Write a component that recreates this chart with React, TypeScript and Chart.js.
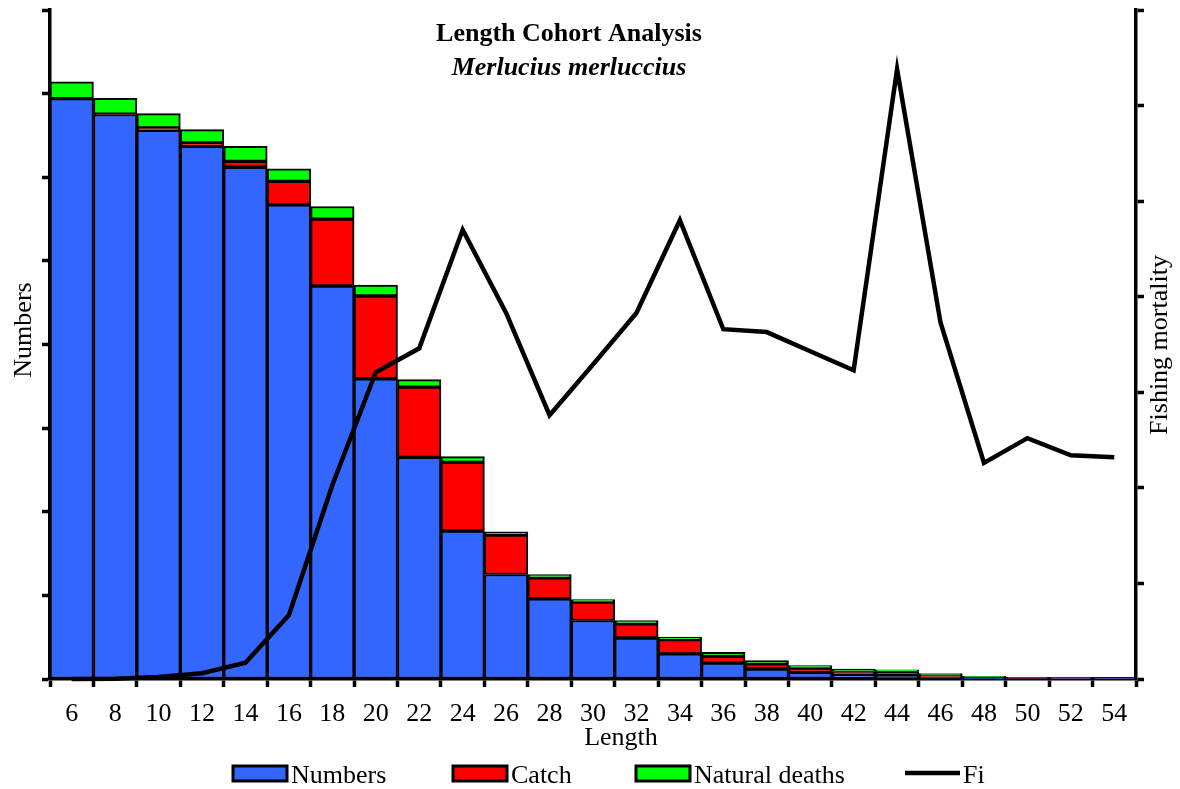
import React, { useEffect, useRef } from "react";
import { Chart, registerables } from "chart.js";

Chart.register(...registerables);

const FONT = '"Liberation Serif", "Times New Roman", serif';

const TITLE = "Length Cohort Analysis";
const SUBTITLE = "Merlucius merluccius";
const X_TITLE = "Length";
const Y_TITLE = "Numbers";
const Y2_TITLE = "Fishing mortality";

const lengths = ["6", "8", "10", "12", "14", "16", "18", "20", "22", "24", "26", "28", "30", "32", "34", "36", "38", "40", "42", "44", "46", "48", "50", "52", "54"];

const numbersSurvivors = [6.94, 6.75, 6.56, 6.37, 6.12, 5.67, 4.70, 3.59, 2.65, 1.77, 1.25, 0.96, 0.70, 0.49, 0.30, 0.19, 0.12, 0.08, 0.05, 0.04, 0.02, 0.01, 0.006, 0.004, 0.003];

const catchValues = [0, 0.005, 0.03, 0.04, 0.07, 0.28, 0.80, 0.99, 0.84, 0.82, 0.47, 0.25, 0.22, 0.17, 0.17, 0.08, 0.06, 0.05, 0.04, 0.05, 0.03, 0.015, 0.01, 0.008, 0.007];

const naturalDeaths = [0.20, 0.19, 0.17, 0.16, 0.18, 0.15, 0.15, 0.13, 0.09, 0.07, 0.04, 0.04, 0.03, 0.04, 0.03, 0.05, 0.04, 0.03, 0.03, 0.02, 0.015, 0.008, 0.005, 0.004, 0.004];

const fishingMortality = [0, 0.003, 0.02, 0.06, 0.17, 0.67, 2.03, 3.21, 3.46, 4.70, 3.83, 2.76, 3.29, 3.83, 4.80, 3.66, 3.63, 3.43, 3.23, 6.38, 3.73, 2.26, 2.52, 2.34, 2.32];

const seriesLabels = ["Numbers", "Catch", "Natural deaths", "Fi"];
const seriesColors = ["#3366FF", "#FF0000", "#00FF00", "#000000"];

const overlayPlugin = {
  id: "overlay",
  afterDraw(chart: any) {
    const ctx = chart.ctx as CanvasRenderingContext2D;
    ctx.save();
    ctx.fillStyle = "#000";
    ctx.textAlign = "center";
    ctx.textBaseline = "alphabetic";

    // Titles
    ctx.font = `bold 26px ${FONT}`;
    ctx.fillText(TITLE, 569, 41);
    ctx.font = `italic bold 26px ${FONT}`;
    ctx.fillText(SUBTITLE, 569, 75);

    // Axis titles
    ctx.font = `26px ${FONT}`;
    ctx.fillText(X_TITLE, 621, 745);
    ctx.save();
    ctx.translate(31, 330);
    ctx.rotate(-Math.PI / 2);
    ctx.fillText(Y_TITLE, 0, 0);
    ctx.restore();
    ctx.save();
    ctx.translate(1167, 345);
    ctx.rotate(-Math.PI / 2);
    ctx.fillText(Y2_TITLE, 0, 0);
    ctx.restore();

    // Legend
    const starts = [233, 453, 636, 905];
    const boxW = 54;
    const boxTop = 766;
    const boxH = 15;
    ctx.textAlign = "left";
    ctx.font = `26px ${FONT}`;
    seriesLabels.forEach((label, i) => {
      const x = starts[i];
      if (i < 3) {
        ctx.fillStyle = seriesColors[i];
        ctx.fillRect(x, boxTop, boxW, boxH);
        ctx.strokeStyle = "#000";
        ctx.lineWidth = 3;
        ctx.strokeRect(x, boxTop, boxW, boxH);
        ctx.fillStyle = "#000";
        ctx.fillText(label, x + boxW + 4, 783);
      } else {
        ctx.strokeStyle = "#000";
        ctx.lineWidth = 4.5;
        ctx.beginPath();
        ctx.moveTo(x, 773);
        ctx.lineTo(x + 55, 773);
        ctx.stroke();
        ctx.fillStyle = "#000";
        ctx.fillText(label, x + 58, 783);
      }
    });
    ctx.restore();
  },
};

export default function App() {
  const canvasRef = useRef<HTMLCanvasElement | null>(null);

  useEffect(() => {
    if (!canvasRef.current) return;
    Chart.defaults.font.family = FONT;
    const axisGrid = {
      drawOnChartArea: false,
      drawTicks: true,
      tickLength: 8,
      tickWidth: 3.5,
      tickColor: "#000",
    };
    const barBase = {
      type: "bar",
      borderColor: "#000",
      borderWidth: 2,
      borderSkipped: false,
      barPercentage: 1,
      categoryPercentage: 1,
      yAxisID: "y",
      stack: "s",
    };
    const chart = new Chart(canvasRef.current, {
      type: "bar",
      data: {
        labels: lengths,
        datasets: [
          { ...barBase, label: seriesLabels[0], data: numbersSurvivors, backgroundColor: seriesColors[0] },
          { ...barBase, label: seriesLabels[1], data: catchValues, backgroundColor: seriesColors[1] },
          { ...barBase, label: seriesLabels[2], data: naturalDeaths, backgroundColor: seriesColors[2] },
          {
            type: "line",
            label: seriesLabels[3],
            data: fishingMortality,
            borderColor: seriesColors[3],
            backgroundColor: seriesColors[3],
            borderWidth: 4.5,
            pointRadius: 0,
            tension: 0,
            fill: false,
            yAxisID: "y1",
            order: -1,
            clip: false,
          },
        ] as any,
      },
      options: {
        responsive: false,
        animation: false,
        layout: { padding: { top: 10, left: 0, right: 0, bottom: 0 } },
        plugins: {
          legend: { display: false },
          title: { display: false },
          tooltip: { enabled: false },
        },
        scales: {
          x: {
            type: "category",
            stacked: true,
            offset: true,
            grid: { ...axisGrid, offset: true },
            border: { display: true, color: "#000", width: 3.5 },
            ticks: {
              color: "#000",
              font: { family: FONT, size: 26 },
              padding: 12,
              maxRotation: 0,
              autoSkip: false,
            },
            afterFit: (s: any) => {
              s.height = 110;
            },
          },
          y: {
            position: "left",
            stacked: true,
            min: 0,
            max: 8,
            ticks: { display: false, stepSize: 1 },
            grid: axisGrid,
            border: { display: true, color: "#000", width: 3.5 },
            afterFit: (s: any) => {
              s.width = 50;
            },
          },
          y1: {
            position: "right",
            min: 0,
            max: 7,
            ticks: { display: false, stepSize: 1 },
            grid: axisGrid,
            border: { display: true, color: "#000", width: 3.5 },
            afterFit: (s: any) => {
              s.width = 44;
            },
          },
        },
      } as any,
      plugins: [overlayPlugin],
    });
    return () => chart.destroy();
  }, []);

  return (
    <div style={{ position: "absolute", left: 0, top: 0, width: 1180, height: 789, background: "#fff" }}>
      <canvas ref={canvasRef} width={1180} height={789} style={{ display: "block" }} />
    </div>
  );
}
